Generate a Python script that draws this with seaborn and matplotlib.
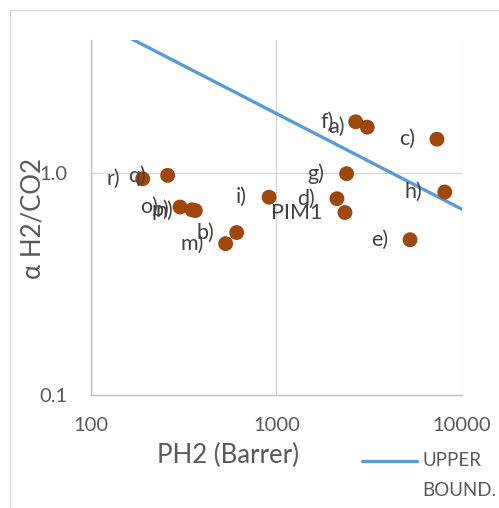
import matplotlib
matplotlib.use("Agg")
import matplotlib.pyplot as plt
from matplotlib.lines import Line2D
from matplotlib.patches import Rectangle
import seaborn as sns
import pandas as pd

# Membrane data: H2 permeability (Barrer) and H2/CO2 selectivity
labels = ["r)", "q)", "o)", "p)", "n)", "m)", "b)", "i)", "d)", "PIM1",
          "g)", "f)", "a)", "c)", "h)", "e)"]
ph2 = [190, 259, 302, 350, 365, 532, 610, 912, 2118, 2339,
       2388, 2673, 3087, 7328, 8072, 5248]
alpha = [0.946, 0.98, 0.705, 0.685, 0.68, 0.482, 0.541, 0.781, 0.769, 0.666,
         0.997, 1.71, 1.617, 1.427, 0.824, 0.502]

# Upper bound line
bound_ph2 = [100, 10000]
bound_alpha = [5.03, 0.689]

x_ticks = [100, 1000, 10000]
x_ticklabels = ["100", "1000", "10000"]
y_ticks = [0.1, 1.0]
y_ticklabels = ["0.1", "1.0"]

sns.set_theme(style="white")
plt.rcParams["font.family"] = ["Lato", "DejaVu Sans"]

W, H = 499, 508
fig = plt.figure(figsize=(W / 100, H / 100), dpi=100)

# chart area border
fig.patches.append(Rectangle((10 / W, -0.1), 1.2, (H - 10) / H + 0.1,
                             transform=fig.transFigure, fill=False,
                             edgecolor="#D9D9D9", linewidth=1.0))

ax = fig.add_axes([91 / W, 1 - 395 / H, (462 - 91) / W, (395 - 40) / H])
ax.set_xscale("log")
ax.set_yscale("log")
ax.set_xlim(100, 10000)
ax.set_ylim(0.1, 4.0)

pts = pd.DataFrame({"PH2": ph2, "alpha": alpha, "label": labels})
line = pd.DataFrame({"PH2": bound_ph2, "alpha": bound_alpha})

ax.grid(True, which="major", color="#D9D9D9", linewidth=1.0)
ax.set_axisbelow(True)

sns.lineplot(data=line, x="PH2", y="alpha", ax=ax, color="#5B9BD5",
             linewidth=2.4, sort=False, zorder=2, legend=False)
sns.scatterplot(data=pts, x="PH2", y="alpha", ax=ax, color="#9E480E",
                s=115, edgecolor="none", zorder=3, legend=False)

for lab, xv, yv in zip(labels, ph2, alpha):
    ax.annotate(lab, (xv, yv), xytext=(-16, 0), textcoords="offset points",
                ha="right", va="center", fontsize=15.5, color="#404040",
                zorder=4)

ax.set_xticks(x_ticks)
ax.set_xticklabels(x_ticklabels)
ax.set_yticks(y_ticks)
ax.set_yticklabels(y_ticklabels)
ax.minorticks_off()
ax.tick_params(axis="both", length=0, labelsize=14.5, labelcolor="#595959")
ax.tick_params(axis="x", pad=16)
ax.tick_params(axis="y", pad=17)
ax.set_xlabel("")
ax.set_ylabel("")

for side in ["top", "right"]:
    ax.spines[side].set_visible(False)
for side in ["left", "bottom"]:
    ax.spines[side].set_color("#BFBFBF")
    ax.spines[side].set_linewidth(1.0)

# axis titles
fig.text(228 / W, 1 - 455 / H, "PH2 (Barrer)", ha="center", va="center",
         fontsize=18.5, color="#595959")
fig.text(33 / W, 1 - 219 / H, "α H2/CO2", ha="center", va="center",
         rotation=90, fontsize=18.5, color="#595959")

# legend
fig.lines.append(Line2D([362 / W, 417 / W], [1 - 461 / H, 1 - 461 / H],
                        transform=fig.transFigure, color="#5B9BD5",
                        linewidth=2.4))
fig.text(422 / W, 1 - 461 / H, "UPPER", ha="left", va="center",
         fontsize=13.5, color="#595959")
fig.text(422 / W, 1 - 491 / H, "BOUND.", ha="left", va="center",
         fontsize=13.5, color="#595959")

fig.savefig("out.png", dpi=100)
